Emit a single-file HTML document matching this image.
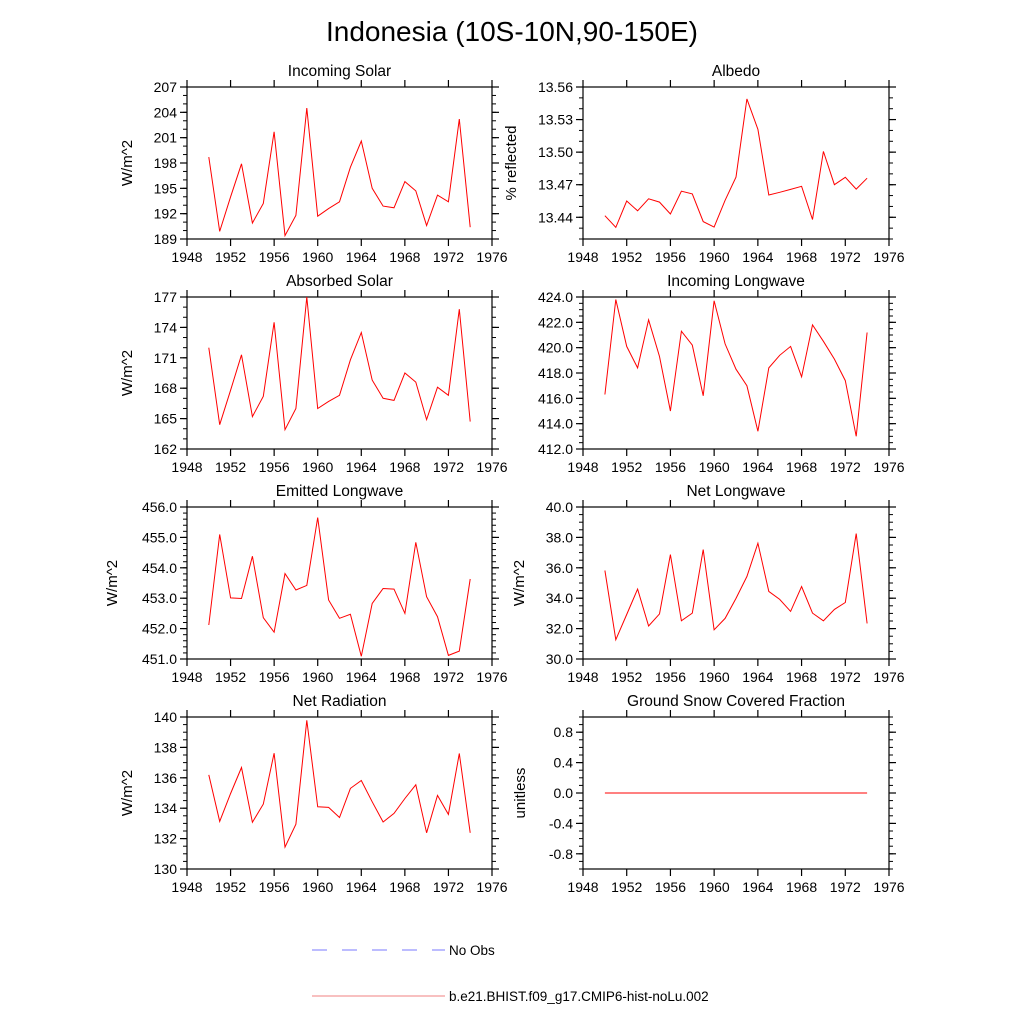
<!DOCTYPE html>
<html><head><meta charset="utf-8">
<style>
body{margin:0;background:#fff;}
svg text{font-family:"Liberation Sans",Arial,sans-serif;fill:#000;}
</style></head>
<body>
<svg id="chart" width="1024" height="1024" viewBox="0 0 1024 1024" xmlns="http://www.w3.org/2000/svg">
<text x="512" y="41" font-size="28" text-anchor="middle">Indonesia (10S-10N,90-150E)</text>
<g id="panels"></g>
<g>
<line x1="312" y1="950" x2="445" y2="950" stroke="#7a7aff" stroke-width="1" stroke-dasharray="15,15"/>
<text x="449" y="955" font-size="13.5">No Obs</text>
<line x1="312" y1="996" x2="445" y2="996" stroke="#f08080" stroke-width="1"/>
<text x="449" y="1001" font-size="13.5">b.e21.BHIST.f09_g17.CMIP6-hist-noLu.002</text>
</g>
</svg>
<script>
const years = [1950,1951,1952,1953,1954,1955,1956,1957,1958,1959,1960,1961,1962,1963,1964,1965,1966,1967,1968,1969,1970,1971,1972,1973,1974];
const xTicks = [1948,1952,1956,1960,1964,1968,1972,1976];
const incomingSolar = [198.7,189.9,194.0,197.9,190.9,193.2,201.7,189.4,191.8,204.5,191.7,192.6,193.4,197.5,200.6,195.0,192.9,192.7,195.8,194.7,190.6,194.2,193.4,203.2,190.4];
const albedo = [13.4415,13.4307,13.455,13.446,13.457,13.454,13.443,13.464,13.4615,13.436,13.431,13.4556,13.477,13.549,13.521,13.4605,13.463,13.4657,13.4685,13.438,13.5007,13.470,13.4768,13.466,13.476];
const absorbedSolar = [172.0,164.4,167.8,171.3,165.2,167.2,174.5,163.9,166.0,177.0,166.0,166.7,167.3,170.8,173.5,168.8,167.0,166.8,169.5,168.6,164.9,168.1,167.3,175.8,164.7];
const incomingLW = [416.3,423.8,420.1,418.4,422.2,419.3,415.0,421.3,420.2,416.2,423.7,420.3,418.3,417.0,413.4,418.4,419.4,420.1,417.7,421.8,420.5,419.1,417.4,413.0,421.2];
const emittedLW = [452.12,455.10,453.01,452.99,454.38,452.36,451.88,453.81,453.27,453.42,455.65,452.94,452.34,452.47,451.09,452.83,453.32,453.30,452.50,454.84,453.05,452.39,451.12,451.26,453.63];
const netLW = [35.82,31.27,32.93,34.60,32.17,32.97,36.87,32.51,33.02,37.20,31.92,32.67,33.99,35.43,37.62,34.45,33.92,33.13,34.77,33.02,32.51,33.26,33.72,38.25,32.34];
const netRadiation = [136.19,133.13,134.97,136.68,133.07,134.27,137.62,131.44,132.95,139.78,134.09,134.05,133.39,135.30,135.82,134.42,133.09,133.66,134.64,135.54,132.38,134.84,133.59,137.60,132.38];
const snowFraction = [0,0,0,0,0,0,0,0,0,0,0,0,0,0,0,0,0,0,0,0,0,0,0,0,0];
const ticksIS = ["189","192","195","198","201","204","207"];
const ticksAlb = ["13.44","13.47","13.50","13.53","13.56"];
const ticksAS = ["162","165","168","171","174","177"];
const ticksILW = ["412.0","414.0","416.0","418.0","420.0","422.0","424.0"];
const ticksELW = ["451.0","452.0","453.0","454.0","455.0","456.0"];
const ticksNLW = ["30.0","32.0","34.0","36.0","38.0","40.0"];
const ticksNR = ["130","132","134","136","138","140"];
const ticksSnow = ["-0.8","-0.4","0.0","0.4","0.8"];

const NS="http://www.w3.org/2000/svg";
const root=document.getElementById('panels');
function mk(tag,attrs,parent){const e=document.createElementNS(NS,tag);for(const k in attrs)e.setAttribute(k,attrs[k]);parent.appendChild(e);return e;}

const panels=[
 {name:'incoming-solar',title:'Incoming Solar',ylab:'W/m^2',yoff:55,data:incomingSolar,ticks:ticksIS,ymin:189,ymax:207,minor:1,col:0,row:0},
 {name:'albedo',title:'Albedo',ylab:'% reflected',yoff:67,data:albedo,ticks:ticksAlb,ymin:13.42,ymax:13.56,minor:0.01,col:1,row:0},
 {name:'absorbed-solar',title:'Absorbed Solar',ylab:'W/m^2',yoff:55,data:absorbedSolar,ticks:ticksAS,ymin:162,ymax:177,minor:1,col:0,row:1},
 {name:'incoming-longwave',title:'Incoming Longwave',ylab:'',yoff:67,data:incomingLW,ticks:ticksILW,ymin:412,ymax:424,minor:0.5,col:1,row:1},
 {name:'emitted-longwave',title:'Emitted Longwave',ylab:'W/m^2',yoff:70,data:emittedLW,ticks:ticksELW,ymin:451,ymax:456,minor:0.2,col:0,row:2},
 {name:'net-longwave',title:'Net Longwave',ylab:'W/m^2',yoff:59,data:netLW,ticks:ticksNLW,ymin:30,ymax:40,minor:0.5,col:1,row:2},
 {name:'net-radiation',title:'Net Radiation',ylab:'W/m^2',yoff:55,data:netRadiation,ticks:ticksNR,ymin:130,ymax:140,minor:0.5,col:0,row:3},
 {name:'snow-fraction',title:'Ground Snow Covered Fraction',ylab:'unitless',yoff:58,data:snowFraction,ticks:ticksSnow,ymin:-1,ymax:1,minor:0.1,col:1,row:3}
];
const colX=[[187,492],[583,889]];
const rowY=[[87,239],[297,449],[507,659],[717,869]];

panels.forEach(p=>{
 const [x0,x1]=colX[p.col],[y0,y1]=rowY[p.row];
 const g=mk('g',{},root);
 
 
 const xs=v=>x0+(v-1948)/(1976-1948)*(x1-x0);
 const ys=v=>y1-(v-p.ymin)/(p.ymax-p.ymin)*(y1-y0);
 const frame=mk('rect',{x:x0,y:y0,width:x1-x0,height:y1-y0,fill:'none',stroke:'#000','stroke-width':1.2},g);
 
 
 const n=Math.round((p.ymax-p.ymin)/p.minor);
 for(let i=0;i<=n;i++){const y=ys(p.ymin+i*p.minor);
  mk('line',{x1:x0-4,y1:y,x2:x0,y2:y,stroke:'#000','stroke-width':1},g);
  mk('line',{x1:x1,y1:y,x2:x1+4,y2:y,stroke:'#000','stroke-width':1},g);}
 p.ticks.forEach(t=>{const v=parseFloat(t),y=ys(v);
  mk('line',{x1:x0-7,y1:y,x2:x0,y2:y,stroke:'#000','stroke-width':1.2},g);
  mk('line',{x1:x1,y1:y,x2:x1+7,y2:y,stroke:'#000','stroke-width':1.2},g);
  const tl=mk('text',{x:x0-10,y:y+5,'font-size':14,'text-anchor':'end'},g);tl.textContent=t;
  
  
 });
 xTicks.forEach(t=>{const x=xs(t);
  mk('line',{x1:x,y1:y1,x2:x,y2:y1+7,stroke:'#000','stroke-width':1.2},g);
  mk('line',{x1:x,y1:y0-7,x2:x,y2:y0,stroke:'#000','stroke-width':1.2},g);
  const tl=mk('text',{x:x,y:y1+23,'font-size':14,'text-anchor':'middle'},g);tl.textContent=t;
  
  
 });
 const tt=mk('text',{x:(x0+x1)/2,y:y0-11,'font-size':15.5,'text-anchor':'middle'},g);tt.textContent=p.title;
 
 
 if(p.ylab){const yl=x0-p.yoff;const cy=(y0+y1)/2;
  const yt=mk('text',{x:yl,y:cy,'font-size':15,'text-anchor':'middle',transform:`rotate(-90 ${yl} ${cy})`},g);yt.textContent=p.ylab;
  
  }
 const pts=years.map((yr,i)=>xs(yr).toFixed(1)+','+ys(p.data[i]).toFixed(1)).join(' ');
 const line=mk('polyline',{points:pts,fill:'none',stroke:'#ff0000','stroke-width':1},g);
 
 
});
</script>
</body></html>
